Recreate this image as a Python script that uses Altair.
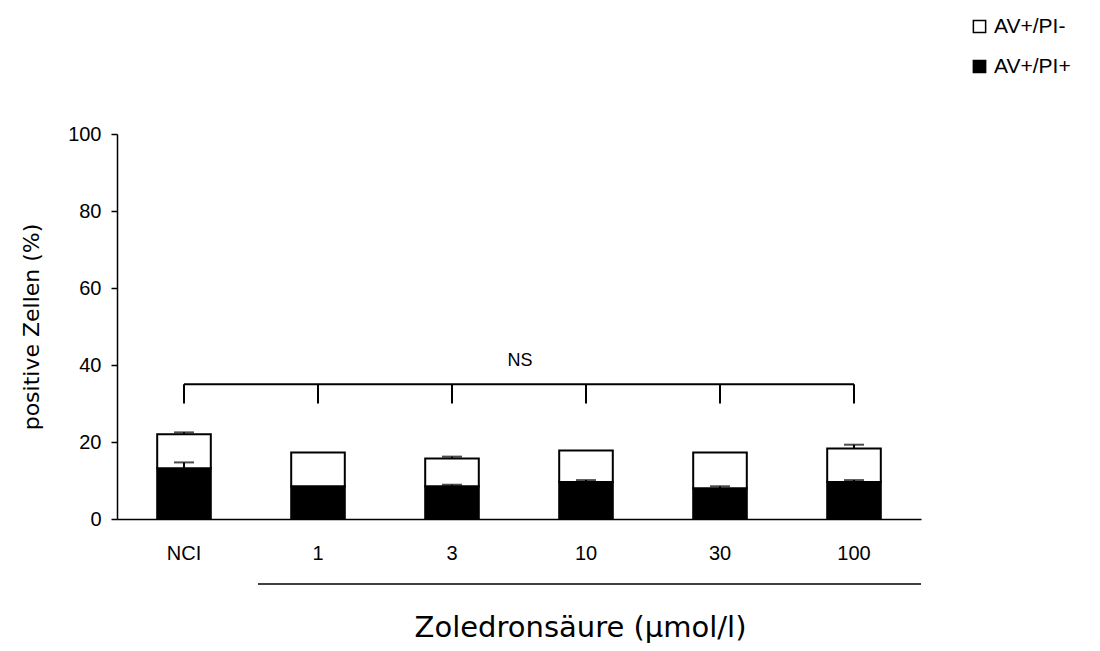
import altair as alt
import pandas as pd

# Treatment groups (negative control, then zoledronic acid concentrations)
groups = ["NCI", "1", "3", "10", "30", "100"]

# Annexin V+/PI+ (black, lower segment) and Annexin V+/PI- (white, upper segment), in %
pi_pos = [13.2, 8.5, 8.5, 9.6, 8.0, 9.6]
pi_pos_err = [1.5, 0.0, 0.4, 0.5, 0.5, 0.5]
pi_neg = [8.8, 8.8, 7.2, 8.2, 9.3, 8.7]
pi_neg_err = [0.5, 0.0, 0.5, 0.0, 0.0, 1.0]

series_names = ["AV+/PI-", "AV+/PI+"]

# Significance bracket
bracket_low = 30
bracket_high = 35
bracket_label = "NS"

rows = []
err_rows = []
for g, p, pe, n, ne in zip(groups, pi_pos, pi_pos_err, pi_neg, pi_neg_err):
    rows.append({"group": g, "series": "AV+/PI+", "start": 0, "end": p})
    rows.append({"group": g, "series": "AV+/PI-", "start": p, "end": p + n})
    if pe > 0:
        err_rows.append({"group": g, "low": p, "high": p + pe})
    if ne > 0:
        err_rows.append({"group": g, "low": p + n, "high": p + n + ne})

bars_df = pd.DataFrame(rows)
err_df = pd.DataFrame(err_rows)
bracket_df = pd.DataFrame({"group": groups, "low": bracket_low, "high": bracket_high})

FONT = "Liberation Sans"
WIDE_FONT = "DejaVu Sans"

x_scale = alt.Scale(domain=groups, paddingInner=0.6, paddingOuter=0.3)
y_scale = alt.Scale(domain=[0, 100], nice=False)

x_enc = alt.X(
    "group:N",
    scale=x_scale,
    sort=groups,
    axis=alt.Axis(
        title="Zoledronsäure (µmol/l)",
        labelAngle=0,
        ticks=False,
        labelPadding=24,
        labelFontSize=20,
        labelFont=FONT,
        titleFont=WIDE_FONT,
        titleFontSize=29,
        titleFontWeight="normal",
        titleY=117,
        titleBaseline="alphabetic",
        titleX=463,
    ),
)

bars = alt.Chart(bars_df).mark_bar(stroke="black", strokeWidth=2).encode(
    x=x_enc,
    y=alt.Y(
        "start:Q",
        scale=y_scale,
        axis=alt.Axis(
            title="positive Zellen (%)",
            values=[0, 20, 40, 60, 80, 100],
            grid=False,
            tickSize=6,
            labelFontSize=20,
            labelFont=FONT,
            labelPadding=10,
            titleFont=WIDE_FONT,
            titleFontSize=22,
            titleFontWeight="normal",
            titleX=-74,
        ),
    ),
    y2="end:Q",
    fill=alt.Fill(
        "series:N",
        scale=alt.Scale(domain=series_names, range=["white", "black"]),
        legend=alt.Legend(
            title=None,
            orient="none",
            legendX=852,
            legendY=-118,
            symbolType="square",
            symbolSize=150,
            symbolStrokeColor="black",
            symbolStrokeWidth=1.5,
            labelFontSize=21,
            labelFont=FONT,
            rowPadding=18,
        ),
    ),
    order=alt.Order("start:Q"),
)

err_stem = alt.Chart(err_df).mark_rule(color="black", strokeWidth=2).encode(
    x=alt.X("group:N", scale=x_scale, sort=groups),
    y=alt.Y("low:Q", scale=y_scale),
    y2="high:Q",
)

err_cap = alt.Chart(err_df).mark_tick(color="black", thickness=2, size=20, orient="horizontal").encode(
    x=alt.X("group:N", scale=x_scale, sort=groups),
    y=alt.Y("high:Q", scale=y_scale),
)

bracket_ticks = alt.Chart(bracket_df).mark_rule(color="black", strokeWidth=2).encode(
    x=alt.X("group:N", scale=x_scale, sort=groups),
    y=alt.Y("low:Q", scale=y_scale),
    y2="high:Q",
)

bracket_line = alt.Chart(bracket_df).mark_line(color="black", strokeWidth=2).encode(
    x=alt.X("group:N", scale=x_scale, sort=groups),
    y=alt.Y("high:Q", scale=y_scale),
)

ns_text = alt.Chart(pd.DataFrame({"label": [bracket_label], "y": [bracket_high + 6]})).mark_text(
    fontSize=18, font=FONT, color="black"
).encode(
    x=alt.value(403),
    y=alt.Y("y:Q", scale=y_scale),
    text="label:N",
)

# Line grouping the zoledronic acid concentrations beneath their labels
conc_line = alt.Chart(pd.DataFrame({"k": [0]})).mark_rule(color="black", strokeWidth=1.5).encode(
    x=alt.value(141),
    x2=alt.value(804),
    y=alt.value(450),
)

chart = (
    alt.layer(bars, err_stem, err_cap, bracket_ticks, bracket_line, ns_text, conc_line)
    .properties(
        width=804,
        height=385,
        autosize=alt.AutoSizeParams(type="none"),
        padding={"left": 117, "top": 134, "right": 179, "bottom": 132},
        background="white",
    )
    .configure_view(stroke=None)
    .configure_axis(
        domainColor="black",
        domainWidth=1.5,
        tickColor="black",
        tickWidth=1.5,
        labelColor="black",
        titleColor="black",
    )
)

chart.save("out.html", embed_options={"renderer": "svg", "actions": False})
